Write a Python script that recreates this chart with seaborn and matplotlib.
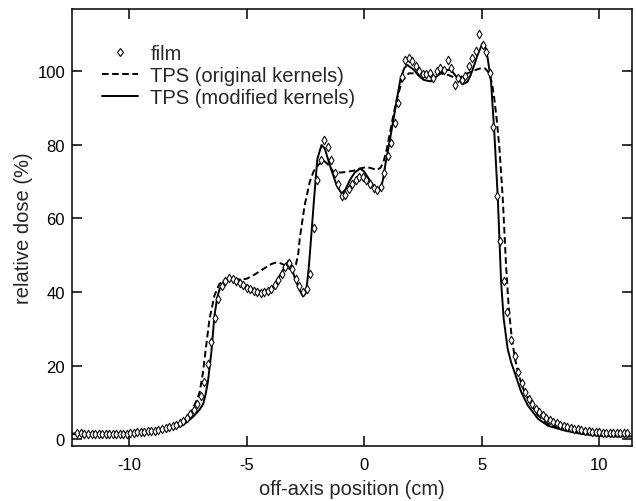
import matplotlib
matplotlib.use("Agg")
import matplotlib.pyplot as plt
from matplotlib.lines import Line2D
import seaborn as sns
import pandas as pd

# ---------------- data ----------------
film_x = [
    -12.2, -12.05, -11.9, -11.75, -11.6, -11.45, -11.3, -11.15, -11.0, -10.85,
    -10.7, -10.55, -10.4, -10.25, -10.1, -9.95, -9.8, -9.65, -9.5, -9.35,
    -9.2, -9.05, -8.9, -8.75, -8.6, -8.45, -8.3, -8.15, -8.0, -7.85,
    -7.7, -7.55, -7.4, -7.25, -7.1, -6.95, -6.8, -6.65, -6.5, -6.35,
    -6.2, -6.05, -5.9, -5.75, -5.6, -5.45, -5.3, -5.15, -5.0, -4.85,
    -4.7, -4.55, -4.4, -4.25, -4.1, -3.95, -3.8, -3.65, -3.5, -3.35,
    -3.2, -3.05, -2.9, -2.75, -2.6, -2.45, -2.3, -2.15, -2.0, -1.85,
    -1.7, -1.55, -1.4, -1.25, -1.1, -0.95, -0.8, -0.65, -0.5, -0.35,
    -0.2, -0.05, 0.1, 0.25, 0.4, 0.55, 0.7, 0.85, 1.0, 1.15,
    1.3, 1.45, 1.6, 1.75, 1.9, 2.05, 2.2, 2.35, 2.5, 2.65,
    2.8, 2.95, 3.1, 3.25, 3.4, 3.55, 3.7, 3.85, 4.0, 4.15,
    4.3, 4.45, 4.6, 4.75, 4.9, 5.05, 5.2, 5.35, 5.5, 5.65,
    5.8, 5.95, 6.1, 6.25, 6.4, 6.55, 6.7, 6.85, 7.0, 7.15,
    7.3, 7.45, 7.6, 7.75, 7.9, 8.05, 8.2, 8.35, 8.5, 8.65,
    8.8, 8.95, 9.1, 9.25, 9.4, 9.55, 9.7, 9.85, 10.0, 10.15,
    10.3, 10.45, 10.6, 10.75, 10.9, 11.05, 11.2,
]
film_y = [
    1.6, 1.6, 1.5, 1.5, 1.5, 1.5, 1.4, 1.4, 1.4, 1.4,
    1.4, 1.4, 1.4, 1.5, 1.5, 1.6, 1.7, 1.8, 1.9, 2.0,
    2.1, 2.2, 2.3, 2.5, 2.7, 2.9, 3.2, 3.5, 3.8, 4.3,
    5.0, 5.8, 6.8, 8.0, 9.6, 11.8, 15.4, 20.4, 26.5, 33.0,
    38.0, 41.5, 43.0, 43.7, 43.5, 43.0, 42.5, 41.8, 41.2, 40.8,
    40.3, 39.9, 39.7, 39.9, 40.2, 40.8, 41.8, 43.3, 45.0, 46.8,
    47.8, 46.2, 43.5, 41.5, 40.0, 40.9, 45.0, 57.5, 70.5, 76.0,
    81.4, 79.5, 76.0, 72.5, 69.5, 66.0, 66.5, 68.0, 69.3, 70.5,
    71.2, 71.4, 70.6, 69.3, 68.2, 67.7, 68.5, 72.5, 77.0, 80.5,
    86.0, 91.5, 98.5, 103.0, 103.6, 102.8, 101.5, 100.2, 99.4, 99.2,
    99.5, 98.3, 100.0, 100.9, 100.5, 103.2, 100.9, 96.2, 98.2, 97.7,
    98.8, 101.5, 103.8, 105.5, 110.2, 107.3, 105.3, 99.5, 85.0, 66.0,
    54.0, 43.0, 34.5, 27.0, 22.5, 18.2, 15.2, 12.9, 11.0, 9.5,
    8.3, 7.3, 6.5, 5.8, 5.2, 4.7, 4.3, 3.9, 3.6, 3.3,
    3.0, 2.8, 2.6, 2.5, 2.3, 2.2, 2.0, 1.9, 1.8, 1.7,
    1.7, 1.6, 1.6, 1.6, 1.6, 1.6, 1.6,
]

orig_x = [
    -12.4, -11.0, -10.0, -9.0, -8.5, -8.0, -7.7, -7.5, -7.3, -7.1,
    -7.0, -6.86, -6.72, -6.58, -6.45, -6.37, -6.16, -5.88, -5.6, -5.3,
    -5.0, -4.75, -4.45, -4.18, -3.95, -3.76, -3.6, -3.47, -3.3, -3.15,
    -3.0, -2.9, -2.8, -2.74, -2.53, -2.31, -2.15, -2.03, -1.74, -1.5,
    -1.31, -1.0, -0.74, -0.45, -0.17, 0.11, 0.35, 0.54, 0.7, 0.83,
    0.97, 1.19, 1.4, 1.61, 1.9, 2.2, 2.54, 2.9, 3.26, 3.6,
    3.97, 4.4, 4.7, 4.97, 5.15, 5.33, 5.45, 5.54, 5.65, 5.76,
    5.9, 6.04, 6.15, 6.26, 6.4, 6.54, 6.75, 6.97, 7.4, 7.83,
    8.5, 9.2, 9.97, 10.7, 11.4,
]
orig_y = [
    1.3, 1.3, 1.4, 2.0, 2.6, 3.6, 4.6, 5.8, 8.0, 11.0,
    12.7, 18.0, 25.4, 32.6, 36.5, 39.0, 42.2, 43.5, 43.5, 43.4,
    43.6, 44.4, 45.6, 46.7, 47.6, 48.0, 47.9, 47.6, 46.8, 46.2,
    46.3, 47.5, 50.5, 54.5, 63.6, 70.0, 72.8, 74.0, 75.9, 74.5,
    72.7, 72.5, 72.7, 73.0, 73.6, 74.0, 73.6, 73.2, 73.8, 75.5,
    79.0, 86.4, 92.7, 97.3, 99.5, 99.5, 99.0, 99.2, 99.5, 99.0,
    98.0, 99.5, 100.3, 100.9, 100.8, 99.5, 96.5, 92.7, 86.5, 79.0,
    65.5, 47.3, 36.0, 29.0, 22.5, 18.2, 14.0, 10.9, 6.4, 4.1,
    2.7, 1.9, 1.4, 1.1, 1.0,
]

mod_x = [
    -12.4, -11.0, -10.0, -9.0, -8.5, -8.0, -7.7, -7.3, -7.0, -6.85,
    -6.75, -6.65, -6.5, -6.37, -6.25, -6.15, -6.0, -5.85, -5.6, -5.3,
    -5.0, -4.7, -4.45, -4.2, -3.9, -3.7, -3.47, -3.22, -3.1, -2.98,
    -2.77, -2.6, -2.5, -2.42, -2.35, -2.27, -2.13, -1.99, -1.81, -1.67,
    -1.46, -1.17, -0.96, -0.8, -0.6, -0.4, -0.17, 0.0, 0.19, 0.4,
    0.54, 0.69, 0.8, 0.9, 1.11, 1.33, 1.54, 1.7, 1.83, 2.11,
    2.3, 2.54, 2.83, 3.05, 3.26, 3.5, 3.69, 3.97, 4.19, 4.4,
    4.54, 4.7, 4.83, 5.04, 5.15, 5.26, 5.4, 5.54, 5.69, 5.83,
    5.94, 6.11, 6.25, 6.4, 6.69, 6.97, 7.4, 7.83, 8.54, 9.26,
    9.97, 10.7, 11.4,
]
mod_y = [
    1.5, 1.5, 1.7, 2.2, 2.7, 3.2, 3.8, 5.9, 8.0, 9.5,
    12.0, 15.4, 23.6, 33.5, 38.5, 40.8, 42.5, 43.5, 43.3, 42.6,
    41.7, 40.8, 40.2, 40.3, 41.3, 43.0, 45.8, 48.5, 47.2, 44.4,
    40.8, 38.8, 39.5, 42.6, 47.0, 53.5, 65.3, 76.2, 80.0, 79.0,
    74.5, 69.0, 66.8, 67.8, 70.5, 72.5, 73.6, 72.8, 70.9, 68.8,
    67.7, 67.7, 70.5, 74.5, 81.8, 90.0, 97.7, 100.8, 101.8, 100.5,
    99.0, 97.7, 97.3, 98.5, 99.5, 100.3, 100.5, 98.2, 96.5, 97.2,
    99.1, 102.0, 104.5, 107.7, 106.8, 103.6, 97.3, 83.6, 65.5, 42.7,
    32.7, 24.5, 21.0, 18.2, 12.7, 9.1, 5.5, 3.6, 2.3, 1.4,
    0.9, 0.7, 0.7,
]

series_labels = ["film", "TPS (original kernels)", "TPS (modified kernels)"]
x_ticks = [-10, -5, 0, 5, 10]
y_ticks = [0, 20, 40, 60, 80, 100]

# ---------------- style ----------------
sns.set_style("ticks")
plt.rcParams["font.family"] = ["Liberation Sans", "DejaVu Sans"]
plt.rcParams["axes.linewidth"] = 1.1

fig = plt.figure(figsize=(6.36, 5.02), dpi=100)
ax = fig.add_axes([72 / 636, 1 - 447 / 502, (632 - 72) / 636, (447 - 10) / 502])

df_film = pd.DataFrame({"x": film_x, "y": film_y})
df_orig = pd.DataFrame({"x": orig_x, "y": orig_y})
df_mod = pd.DataFrame({"x": mod_x, "y": mod_y})

dash = (0, (3.4, 1.8))
lw = 1.4

sns.lineplot(data=df_orig, x="x", y="y", ax=ax, color="black", lw=lw,
             linestyle=dash, sort=False, estimator=None, zorder=2)
sns.lineplot(data=df_mod, x="x", y="y", ax=ax, color="black", lw=lw,
             sort=False, estimator=None, zorder=3)
sns.scatterplot(data=df_film, x="x", y="y", ax=ax, marker="d", s=19,
                facecolor="white", edgecolor="black", linewidth=0.75, zorder=4)

ax.set_xlim(-12.43, 11.4)
ax.set_ylim(-1.9, 117)
ax.set_xticks(x_ticks)
ax.set_yticks(y_ticks)
ax.set_xticklabels([str(t) for t in x_ticks])
ax.set_yticklabels([str(t) for t in y_ticks])
ax.tick_params(axis="both", direction="in", length=7, width=1.1,
               top=True, right=True, labelsize=12, colors="black")
ax.tick_params(axis="x", pad=8)
ax.tick_params(axis="y", pad=5)
for s in ax.spines.values():
    s.set_visible(True)
    s.set_color("black")

ax.set_xlabel("off-axis position (cm)", fontsize=14.5, labelpad=5)
ax.set_ylabel("relative dose (%)", fontsize=14.5, labelpad=3)

handles = [
    Line2D([], [], marker="d", ls="", mfc="white", mec="black", ms=4.4, mew=0.8),
    Line2D([], [], color="black", lw=lw, linestyle=dash),
    Line2D([], [], color="black", lw=lw),
]
ax.legend(handles, series_labels, loc="upper left", bbox_to_anchor=(0.0536, 0.92),
          frameon=False, fontsize=14.5, handlelength=1.8, handletextpad=0.6,
          labelspacing=0.15, borderpad=0, borderaxespad=0)

fig.savefig("out.png", dpi=100)
